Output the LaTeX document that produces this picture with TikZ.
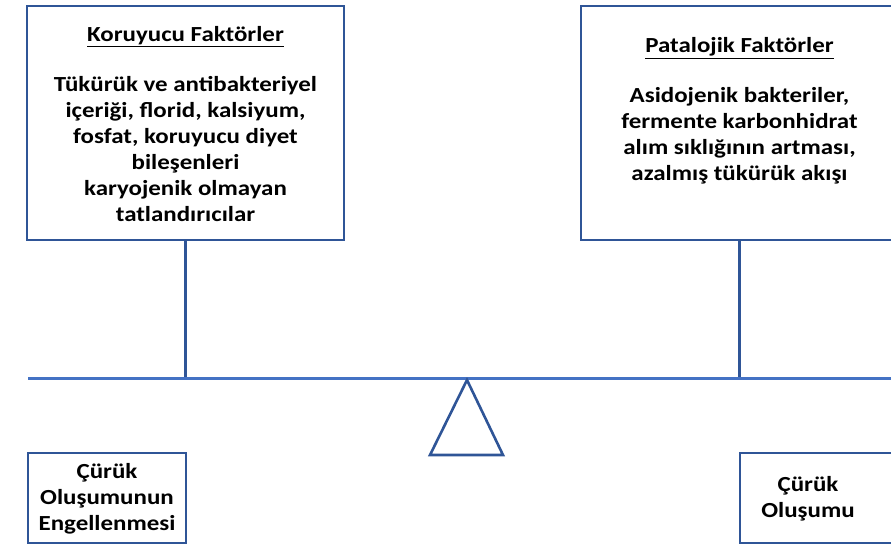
\documentclass[tikz,border=0pt]{standalone}
\usepackage{fontspec}
\setmainfont{Carlito}[FakeStretch=1.16]
\definecolor{boxblue}{HTML}{2F5597}
\definecolor{beamblue}{HTML}{4472C4}
\tikzset{
  x=1pt,y=-1pt,
  boxstyle/.style={draw=boxblue,line width=2.6pt,inner sep=0pt},
  txt/.style={align=center,font=\fontsize{21.5}{26}\selectfont\bfseries,inner sep=0pt},
  pole/.style={draw=boxblue,line width=2.4pt},
  beam/.style={draw=beamblue,line width=3pt},
}
\begin{document}
\begin{tikzpicture}
\useasboundingbox (0,0) rectangle (891,548);
% top boxes
\node[boxstyle,minimum width=317pt,minimum height=234pt] (lbox) at (185.5,123) {};
\node[boxstyle,minimum width=317pt,minimum height=234pt] (rbox) at (739.5,123) {};
\node[txt] (ltxt) at (185.5,124) {\underline{Koruyucu Faktörler}\\[24pt]Tükürük ve antibakteriyel\\içeriği, florid, kalsiyum,\\fosfat, koruyucu diyet\\bileşenleri\\karyojenik olmayan\\tatlandırıcılar};
\node[txt] (rtxt) at (739.5,111) {\underline{Patalojik Faktörler}\\[24pt]Asidojenik bakteriler,\\fermente karbonhidrat\\alım sıklığının artması,\\azalmış tükürük akışı};
% beam
\coordinate (bl) at (28,378);
\coordinate (br) at (895,378);
\coordinate (lp) at (185.5,378);
\coordinate (rp) at (739.5,378);
\draw[pole] (lbox.south) -- (lp);
\draw[pole] (rbox.south) -- (rp);
\draw[beam] (bl) -- (br);
% fulcrum
\coordinate (apex) at (467,380);
\coordinate (fl) at (430,455);
\coordinate (fr) at (503,455);
\draw[boxblue,line width=2.6pt,line join=miter] (apex) -- (fr) -- (fl) -- cycle;
% bottom boxes
\node[boxstyle,minimum width=158pt,minimum height=90pt] (lres) at (107,498) {};
\node[boxstyle,minimum width=158pt,minimum height=90pt] (rres) at (819,498) {};
\node[txt] (lrest) at (107,499) {Çürük\\Oluşumunun\\Engellenmesi};
\node[txt] (rrest) at (808,499) {Çürük\\Oluşumu};
\end{tikzpicture}
\end{document}
